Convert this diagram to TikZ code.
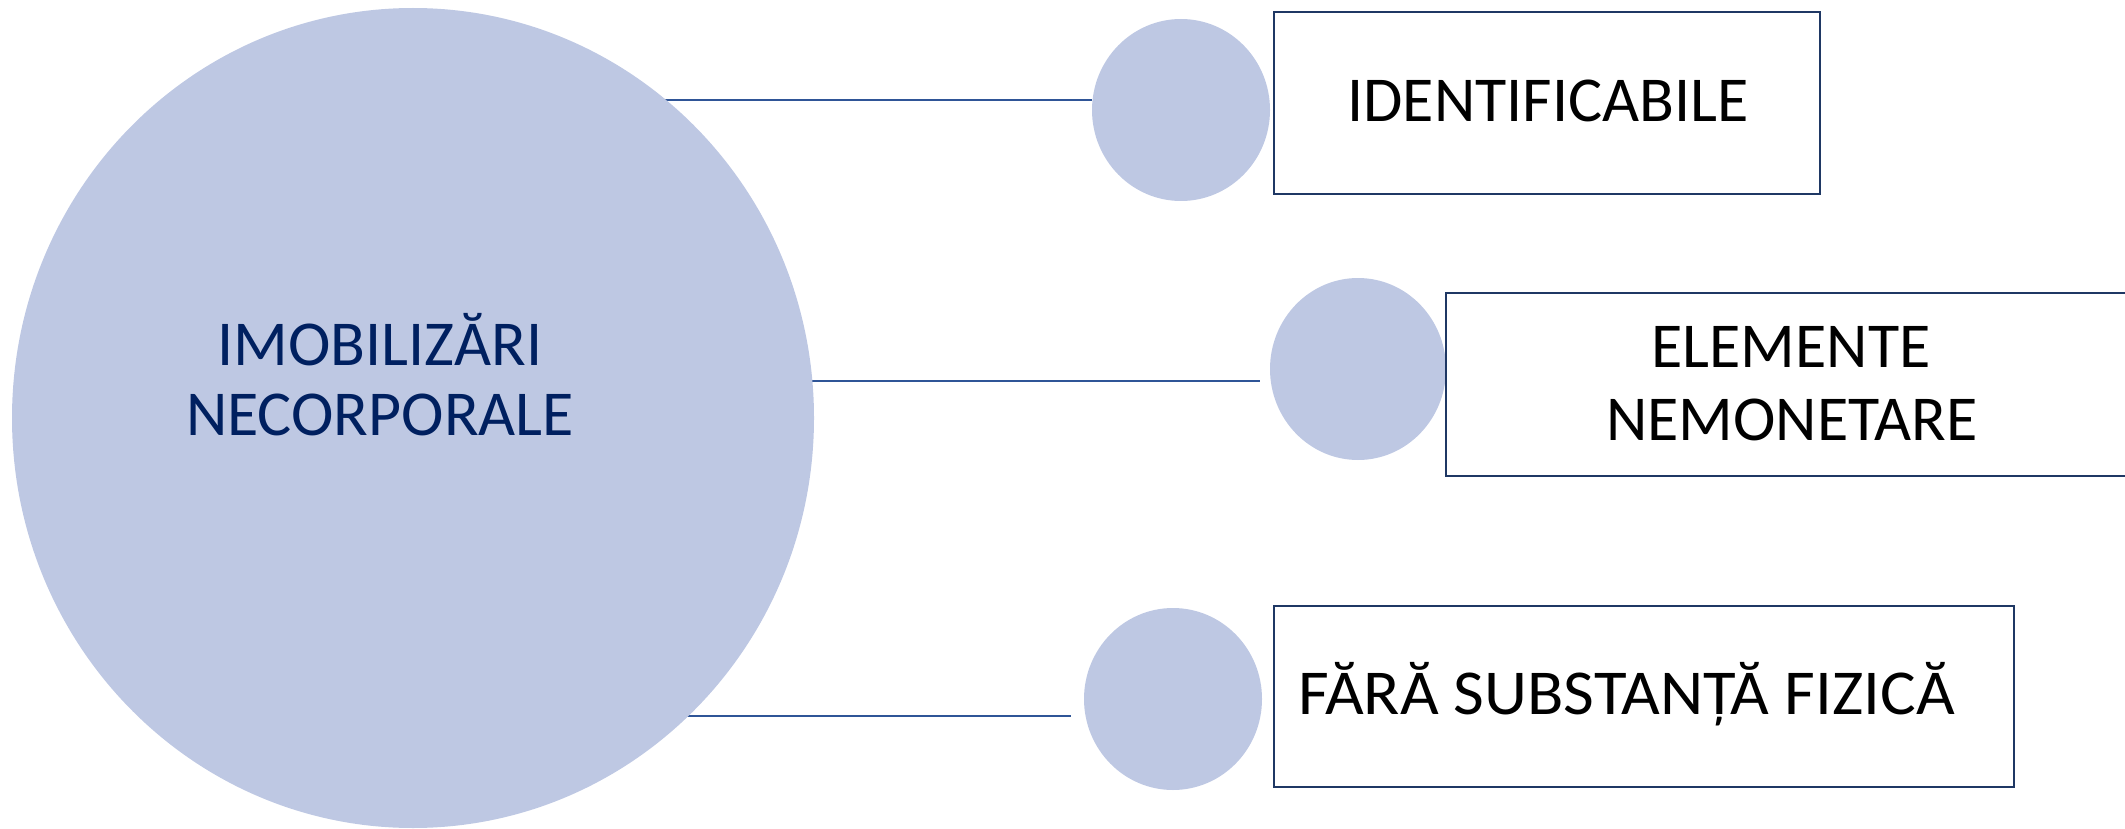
\documentclass[tikz,border=0pt]{standalone}
\usepackage{graphicx}
\usepackage{fontspec}
\setmainfont{Carlito}
\usetikzlibrary{shapes.geometric,backgrounds}
\definecolor{bubble}{RGB}{190,200,227}
\definecolor{navy}{RGB}{0,32,96}
\definecolor{linkblue}{RGB}{47,85,151}
\definecolor{boxline}{RGB}{31,56,100}
\tikzset{
  bubble/.style={ellipse, fill=bubble, draw=none, inner sep=0pt},
  itembox/.style={rectangle, draw=boxline, line width=1.4pt, fill=white, inner sep=0pt},
  link/.style={draw=linkblue, line width=1.8pt},
  maintext/.style={font=\fontsize{64}{72}\selectfont, text=navy, inner sep=0pt, anchor=base},
  itemtext/.style={font=\fontsize{64}{72}\selectfont, text=black, inner sep=0pt, anchor=base},
}
\begin{document}
\begin{tikzpicture}[x=1pt,y=-1pt]
\useasboundingbox (0,0) rectangle (2125,829);
% big circle
\node[bubble, minimum width=802pt, minimum height=820pt] (big) at (413,418) {};
\node[maintext] (m1) at (380,365) {IMOBILIZĂRI};
\node[maintext] (m2) at (380,435) {NECORPORALE};
% small circles
\node[bubble, minimum width=178pt, minimum height=182pt] (c1) at (1181,110) {};
\node[bubble, minimum width=176pt, minimum height=182pt] (c2) at (1358,369) {};
\node[bubble, minimum width=178pt, minimum height=182pt] (c3) at (1173,699) {};
% boxes
\node[itembox, minimum width=700pt, minimum height=183pt] (b2) at (1796,384.5) {};
\node[itembox, minimum width=546pt, minimum height=182pt] (b1) at (1547,103) {};
\node[itembox, minimum width=740pt, minimum height=181pt] (b3) at (1644,696.5) {};
\node[itemtext] (t1) at (1548,122) {IDENTIFICABILE};
\node[itemtext] (t2a) at (1791,367) {ELEMENTE};
\node[itemtext] (t2b) at (1792,440) {NEMONETARE};
\node[itemtext, anchor=base west] (t3) at (1298,714) {\scalebox{1.045}[1]{FĂRĂ SUBSTANȚĂ FIZICĂ}};
% connectors
\begin{scope}[on background layer]
\path (big.center |- c1.west) ++(0,-10) coordinate (l1);
\path (big.center |- c2.west) ++(0,12) coordinate (l2);
\path (big.center |- c3.west) ++(0,17) coordinate (l3);
\draw[link] (l1) -- (c1.west |- l1);
\draw[link, shorten >=10pt] (l2) -- (c2.west |- l2);
\draw[link, shorten >=13pt] (l3) -- (c3.west |- l3);
\end{scope}
\end{tikzpicture}
\end{document}
